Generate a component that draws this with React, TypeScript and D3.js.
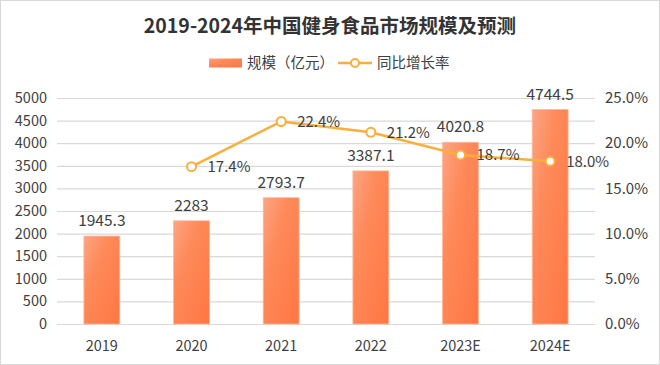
import * as d3 from 'd3';
import React, { useEffect, useRef } from 'react';

// chart data
const years = ['2019', '2020', '2021', '2022', '2023E', '2024E'];
const marketSize = [1945.3, 2283, 2793.7, 3387.1, 4020.8, 4744.5];
const growthRate = [null, 17.4, 22.4, 21.2, 18.7, 18.0];
const leftTicks = [0, 500, 1000, 1500, 2000, 2500, 3000, 3500, 4000, 4500, 5000];
const rightTicks = [0, 5, 10, 15, 20, 25];

const W = 660;
const H = 365;
const FONT = '"Noto Sans CJK SC", "Open Sans", sans-serif';

const App = () => {
  const svgRef = useRef<SVGSVGElement>(null);

  useEffect(() => {
    const svg = d3.select(svgRef.current);
    svg.selectAll('*').remove();

    const margin = { top: 98, right: 65, bottom: 41, left: 57 };
    const innerW = W - margin.left - margin.right;
    const innerH = H - margin.top - margin.bottom;

    // gradient for the bars
    const defs = svg.append('defs');
    const grad = defs
      .append('linearGradient')
      .attr('id', 'barGrad')
      .attr('x1', '0%')
      .attr('y1', '0%')
      .attr('x2', '100%')
      .attr('y2', '100%');
    grad.append('stop').attr('offset', '0%').attr('stop-color', '#fca584');
    grad.append('stop').attr('offset', '35%').attr('stop-color', '#fe8a5a');
    grad.append('stop').attr('offset', '100%').attr('stop-color', '#ff7642');

    // outer frame
    svg
      .append('rect')
      .attr('x', 0.5)
      .attr('y', 0.5)
      .attr('width', W - 1)
      .attr('height', H - 1)
      .attr('fill', '#fff')
      .attr('stroke', '#d9d9d9');

    // title
    svg
      .append('text')
      .attr('x', 330)
      .attr('y', 33)
      .attr('text-anchor', 'middle')
      .attr('font-size', 19.5)
      .attr('font-weight', 'bold')
      .attr('fill', '#333')
      .attr('font-family', FONT)
      .text('2019-2024年中国健身食品市场规模及预测');

    // legend
    const legend = svg.append('g').attr('font-family', FONT).attr('font-size', 14.5).attr('fill', '#404040');
    legend.append('rect').attr('x', 209).attr('y', 58.5).attr('width', 33).attr('height', 9).attr('fill', 'url(#barGrad)');
    legend.append('text').attr('x', 247).attr('y', 63).attr('dy', '0.35em').text('规模（亿元）');
    legend
      .append('line')
      .attr('x1', 338)
      .attr('x2', 372)
      .attr('y1', 63)
      .attr('y2', 63)
      .attr('stroke', '#fbae3c')
      .attr('stroke-width', 2.5);
    legend
      .append('circle')
      .attr('cx', 355)
      .attr('cy', 63)
      .attr('r', 4)
      .attr('fill', '#fff')
      .attr('stroke', '#fbae3c')
      .attr('stroke-width', 2);
    legend.append('text').attr('x', 377).attr('y', 63).attr('dy', '0.35em').text('同比增长率');

    const g = svg.append('g').attr('transform', `translate(${margin.left}, ${margin.top})`);

    const x = d3.scaleBand().domain(years).range([0, innerW]).paddingInner(0.6).paddingOuter(0.3);
    const y = d3.scaleLinear().domain([0, 5000]).range([innerH, 0]);
    const yR = d3.scaleLinear().domain([0, 25]).range([innerH, 0]);

    // grid lines
    g.selectAll('.grid')
      .data(leftTicks)
      .enter()
      .append('line')
      .attr('x1', 0)
      .attr('x2', innerW)
      .attr('y1', (d) => y(d) + 0.5)
      .attr('y2', (d) => y(d) + 0.5)
      .attr('stroke', '#d9d9d9')
      .attr('stroke-width', 1.2);

    // left axis labels
    g.selectAll('.ly')
      .data(leftTicks)
      .enter()
      .append('text')
      .attr('x', -10)
      .attr('y', (d) => y(d))
      .attr('dy', '0.35em')
      .attr('text-anchor', 'end')
      .attr('font-size', 14.5)
      .attr('fill', '#404040')
      .attr('font-family', FONT)
      .text((d) => d);

    // right axis labels
    g.selectAll('.ry')
      .data(rightTicks)
      .enter()
      .append('text')
      .attr('x', innerW + 10)
      .attr('y', (d) => yR(d))
      .attr('dy', '0.35em')
      .attr('text-anchor', 'start')
      .attr('font-size', 15)
      .attr('fill', '#404040')
      .attr('font-family', FONT)
      .text((d) => d.toFixed(1) + '%');

    // x axis labels
    g.selectAll('.xl')
      .data(years)
      .enter()
      .append('text')
      .attr('x', (d) => x(d)! + x.bandwidth() / 2)
      .attr('y', innerH + 22)
      .attr('dy', '0.35em')
      .attr('text-anchor', 'middle')
      .attr('font-size', 14.5)
      .attr('fill', '#404040')
      .attr('font-family', FONT)
      .text((d) => d);

    // bars
    g.selectAll('.bar')
      .data(marketSize)
      .enter()
      .append('rect')
      .attr('x', (d, i) => x(years[i])!)
      .attr('y', (d) => y(d))
      .attr('width', x.bandwidth())
      .attr('height', (d) => innerH - y(d))
      .attr('fill', 'url(#barGrad)')
      .attr('stroke', '#ffb79a')
      .attr('stroke-width', 0.8);

    // bar value labels
    g.selectAll('.bv')
      .data(marketSize)
      .enter()
      .append('text')
      .attr('x', (d, i) => x(years[i])! + x.bandwidth() / 2)
      .attr('y', (d) => y(d) - 10)
      .attr('text-anchor', 'middle')
      .attr('font-size', 15.5)
      .attr('fill', '#404040')
      .attr('font-family', FONT)
      .text((d) => d);

    // growth line
    const pts = growthRate
      .map((v, i) => ({ v, i }))
      .filter((d) => d.v !== null) as { v: number; i: number }[];
    const cx = (d) => x(years[d.i])! + x.bandwidth() / 2;

    const line = d3
      .line<{ v: number; i: number }>()
      .x(cx)
      .y((d) => yR(d.v));

    g.append('path')
      .datum(pts)
      .attr('d', line)
      .attr('fill', 'none')
      .attr('stroke', '#fbae3c')
      .attr('stroke-width', 2.5);

    g.selectAll('.pt')
      .data(pts)
      .enter()
      .append('circle')
      .attr('cx', cx)
      .attr('cy', (d) => yR(d.v))
      .attr('r', 4.5)
      .attr('fill', '#fff')
      .attr('stroke', '#fbae3c')
      .attr('stroke-width', 2);

    g.selectAll('.pv')
      .data(pts)
      .enter()
      .append('text')
      .attr('x', (d) => cx(d) + 16)
      .attr('y', (d) => yR(d.v))
      .attr('dy', '0.35em')
      .attr('font-size', 15)
      .attr('fill', '#404040')
      .attr('font-family', FONT)
      .text((d) => d.v.toFixed(1) + '%');
  }, []);

  return (
    <svg
      ref={svgRef}
      width={W}
      height={H}
      style={{ position: 'absolute', left: 0, top: 0, display: 'block' }}
    ></svg>
  );
};

export default App;
